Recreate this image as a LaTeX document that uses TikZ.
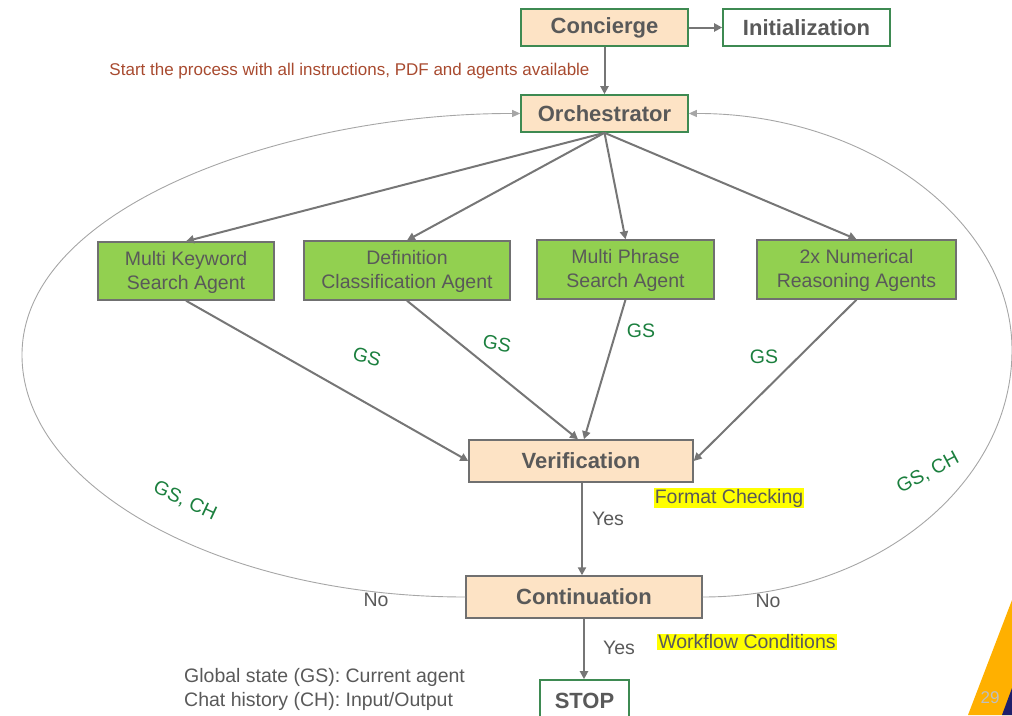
\documentclass[tikz,border=0pt]{standalone}
\usepackage{fontspec}
\setmainfont{Liberation Sans}
\usetikzlibrary{arrows.meta,calc}
\definecolor{txtgray}{HTML}{595959}
\definecolor{peach}{HTML}{FDE3C5}
\definecolor{boxgreen}{HTML}{3E8A52}
\definecolor{agentgreen}{HTML}{92D050}
\definecolor{bordergray}{HTML}{707070}
\definecolor{arrowgray}{HTML}{767676}
\definecolor{loopgray}{HTML}{A6A6A6}
\definecolor{labgreen}{HTML}{1B7F3E}
\definecolor{redtxt}{HTML}{A84A2F}
\definecolor{hlyellow}{HTML}{FFFF00}
\definecolor{bandorange}{HTML}{FFB000}
\definecolor{bandnavy}{HTML}{1F1F6B}
\tikzset{
  boldbox/.style={draw=boxgreen, line width=1.6pt, fill=peach, inner sep=0pt,
    text=txtgray, font=\fontsize{22}{26}\selectfont\bfseries},
  whitebox/.style={boldbox, fill=white},
  stagebox/.style={boldbox, draw=bordergray, line width=1.4pt},
  agentbox/.style={draw=bordergray, line width=1.4pt, fill=agentgreen, inner sep=0pt,
    text=txtgray, align=center, font=\fontsize{19.5}{24}\selectfont},
  flow/.style={draw=arrowgray, line width=2pt, -{Triangle[length=8pt,width=8pt]}},
  loop/.style={draw=loopgray, line width=0.9pt, -{Triangle[length=8pt,width=7pt]}},
  gslab/.style={text=labgreen, font=\fontsize{19.5}{24}\selectfont, inner sep=0pt},
  plain/.style={text=txtgray, font=\fontsize{19.5}{24}\selectfont, inner sep=0pt},
  hilite/.style={plain, fill=hlyellow, inner sep=1pt}
}
\begin{document}
\begin{tikzpicture}[x=1pt,y=-1pt]
\useasboundingbox (0,0) rectangle (1012,715);
% corner band
\fill[bandorange] (1012,600) -- (968,715) -- (1012,715) -- cycle;
\fill[bandnavy] (1012,688) -- (1002,715) -- (1012,715) -- cycle;
\node[text=black!25, font=\fontsize{17}{20}\selectfont, inner sep=0pt] (pg) at (990,698) {29};

% boxes
\node[boldbox, minimum width=167pt, minimum height=37pt] (conc) at (604.5,27.5) {Concierge};
\node[whitebox, minimum width=167pt, minimum height=37pt] (init) at (806.5,27.5) {Initialization};
\node[boldbox, minimum width=167pt, minimum height=37pt] (orch) at (604.5,113.5) {Orchestrator};
\node[agentbox, minimum width=176pt, minimum height=58pt] (mk) at (186,271) {\strut Multi Keyword\\Search Agent};
\node[agentbox, minimum width=206pt, minimum height=59pt] (def) at (407,270.5) {\strut Definition\\Classification Agent};
\node[agentbox, minimum width=177pt, minimum height=59pt] (mp) at (625.5,269.5) {\strut Multi Phrase\\Search Agent};
\node[agentbox, minimum width=199pt, minimum height=59pt] (num) at (856.5,269.5) {\strut 2x Numerical\\Reasoning Agents};
\node[stagebox, minimum width=224pt, minimum height=42pt] (verif) at (581,461) {Verification};
\node[stagebox, minimum width=236pt, minimum height=42pt] (cont) at (584,597) {Continuation};
\node[whitebox, minimum width=89pt, minimum height=42pt] (stop) at (584.5,701) {STOP};

% texts
\node[text=redtxt, font=\fontsize{17}{20}\selectfont, inner sep=0pt] (start) at (349.5,71) {Start the process with all instructions, PDF and agents available};
\node[plain, align=left, anchor=west] (legend) at (184,689) {Global state (GS): Current agent\\Chat history (CH): Input/Output};
\node[hilite] (fmt) at (729,498) {Format Checking};
\node[hilite] (wfc) at (747,642) {Workflow Conditions};
\node[plain] (yes1) at (608,519) {Yes};
\node[plain] (yes2) at (619,648) {Yes};
\node[plain] (no1) at (376,600) {No};
\node[plain] (no2) at (768,601) {No};
\node[gslab, rotate=-16] (gs1) at (367,357) {GS};
\node[gslab, rotate=-11] (gs2) at (497,344) {GS};
\node[gslab] (gs3) at (641,331) {GS};
\node[gslab] (gs4) at (764,357) {GS};
\node[gslab, rotate=-25] (gsch1) at (185,501) {GS, CH};
\node[gslab, rotate=28] (gsch2) at (928,473) {GS, CH};

% flow arrows
\draw[flow] (conc.east) -- (init.west);
\draw[flow] (conc.south) -- (orch.north);
\draw[flow] (orch.south) -- (mk.north);
\draw[flow] (orch.south) -- (def.north);
\draw[flow] (orch.south) -- (mp.north);
\draw[flow] (orch.south) -- (num.north);
\draw[flow] (mk.south) -- (verif.west);
\draw[flow] (def.south) -- ([xshift=-3pt]verif.north);
\draw[flow] (mp.south) -- ([xshift=3pt]verif.north);
\draw[flow] (num.south) -- (verif.east);
\draw[flow] ([xshift=1pt]verif.south) -- ([xshift=1pt]verif.south |- cont.north);
\draw[flow] (cont.south) -- (cont.south |- stop.north);

% feedback loops
\draw[loop] (cont.west) .. controls (222,597) and (22,488) .. (22,355)
  .. controls (22,205) and (290,113) .. (orch.west);
\draw[loop] (cont.east) .. controls (873,597) and (1012,486) .. (1012,350)
  .. controls (1012,220) and (866,113) .. (orch.east);
\end{tikzpicture}
\end{document}
